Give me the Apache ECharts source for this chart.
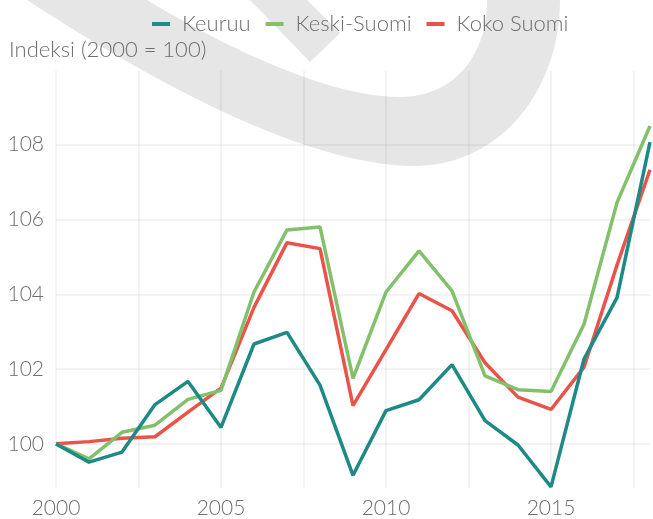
<!DOCTYPE html>
<html>
<head>
<meta charset="utf-8">
<script src="https://cdn.jsdelivr.net/npm/echarts@6/dist/echarts.min.js"></script>
<style>
  html, body { margin: 0; padding: 0; background: #fff; }
  #chart { width: 653px; height: 519px; }
</style>
</head>
<body>
<div id="chart"></div>
<script>
// Index values, 2000 = 100
const years = [2000, 2001, 2002, 2003, 2004, 2005, 2006, 2007, 2008, 2009,
  2010, 2011, 2012, 2013, 2014, 2015, 2016, 2017, 2018]
const keuruu = [100, 99.51, 99.78, 101.05, 101.67, 100.44, 102.67, 102.98, 101.57, 99.16,
  100.89, 101.18, 102.12, 100.62, 99.97, 98.85, 102.27, 103.91, 108.07]
const keskiSuomi = [100, 99.6, 100.31, 100.5, 101.19, 101.43, 104.06, 105.72, 105.8, 101.75,
  104.06, 105.16, 104.09, 101.82, 101.45, 101.4, 103.2, 106.45, 108.5]
const kokoSuomi = [100, 100.06, 100.15, 100.19, 100.85, 101.49, 103.65, 105.38, 105.22, 101.02,
  102.52, 104.02, 103.56, 102.17, 101.25, 100.92, 102.05, 104.78, 107.33]
const seriesNames = ['Keuruu', 'Keski-Suomi', 'Koko Suomi']
const yTitle = 'Indeksi (2000 = 100)'

const colors = ['#1d8a85', '#82c06b', '#e9544a']
const font = 'Lato'
const textColor = '#6e6e6e'
const gridColor = 'rgba(0, 0, 0, 0.065)'

const pairs = vals => years.map((y, i) => [y, vals[i]])

// sample a cubic bezier into polygon points (for the background swoosh)
function cubic (p0, p1, p2, p3, n = 24) {
  const pts = []
  for (let k = 1; k <= n; k++) {
    const t = k / n, u = 1 - t
    pts.push([
      u * u * u * p0[0] + 3 * u * u * t * p1[0] + 3 * u * t * t * p2[0] + t * t * t * p3[0],
      u * u * u * p0[1] + 3 * u * u * t * p1[1] + 3 * u * t * t * p2[1] + t * t * t * p3[1]
    ])
  }
  return pts
}
const swoosh = [[27, 0]]
  .concat(cubic([27, 0], [150, 80], [300, 163], [410, 166]))
  .concat(cubic([410, 166], [500, 168], [560, 90], [560, 0]))
  .concat([[487, 0]])
  .concat(cubic([487, 0], [487, 60], [450, 97], [400, 97]))
  .concat(cubic([400, 97], [330, 97], [230, 50], [147, 0]))

const chart = echarts.init(document.getElementById('chart'), null, { renderer: 'canvas' })

const option = {
  backgroundColor: '#fff',
  animation: false,
  color: colors,
  graphic: [
    {
      type: 'polygon',
      z: -10,
      silent: true,
      shape: { points: swoosh },
      style: { fill: '#e6e6e6' }
    },
    {
      type: 'polygon',
      z: -10,
      silent: true,
      shape: { points: [[250, 0], [307, 0], [340, 33], [310, 62]] },
      style: { fill: '#e6e6e6' }
    }
  ],
  title: {
    text: yTitle,
    left: 4,
    top: 34,
    textStyle: { fontFamily: font, fontSize: 22, fontWeight: 300, color: textColor }
  },
  legend: {
    data: seriesNames,
    left: 147,
    top: 8,
    icon: 'rect',
    itemWidth: 18,
    itemHeight: 4,
    itemGap: 15,
    textStyle: { fontFamily: font, fontSize: 22, fontWeight: 300, color: textColor, padding: [0, 0, 0, 7] }
  },
  grid: { left: 56, right: 3, top: 71, bottom: 29 },
  xAxis: {
    type: 'value',
    min: 2000,
    max: 2018,
    interval: 2.5,
    axisLine: { show: false },
    axisTick: { show: false },
    axisLabel: {
      margin: 10,
      fontFamily: font,
      fontSize: 21,
      fontWeight: 300,
      color: textColor,
      formatter: v => (v % 5 === 0 ? String(v) : '')
    },
    splitLine: { show: true, showMaxLine: false, lineStyle: { color: gridColor, width: 1.5 } }
  },
  yAxis: {
    type: 'value',
    min: 98.82,
    max: 109.97,
    splitNumber: 5,
    axisLine: { show: false },
    axisTick: { show: false },
    axisLabel: {
      margin: 12,
      showMinLabel: false,
      showMaxLabel: false,
      fontFamily: font,
      fontSize: 21,
      fontWeight: 300,
      color: textColor,
      formatter: v => (Math.abs(v - Math.round(v)) < 1e-6 && Math.round(v) % 2 === 0 ? String(Math.round(v)) : '')
    },
    splitLine: {
      show: true,
      showMinLine: false,
      showMaxLine: false,
      lineStyle: { color: gridColor, width: 1.5 }
    }
  },
  series: [
    { name: seriesNames[0], type: 'line', data: pairs(keuruu) },
    { name: seriesNames[1], type: 'line', data: pairs(keskiSuomi) },
    { name: seriesNames[2], type: 'line', data: pairs(kokoSuomi) }
  ].map((s, i) => ({
    ...s,
    showSymbol: false,
    symbol: 'none',
    lineStyle: { width: 3.5, color: colors[i] },
    itemStyle: { color: colors[i] },
    z: 2 + (2 - i)
  }))
}

chart.setOption(option)
</script>
</body>
</html>
